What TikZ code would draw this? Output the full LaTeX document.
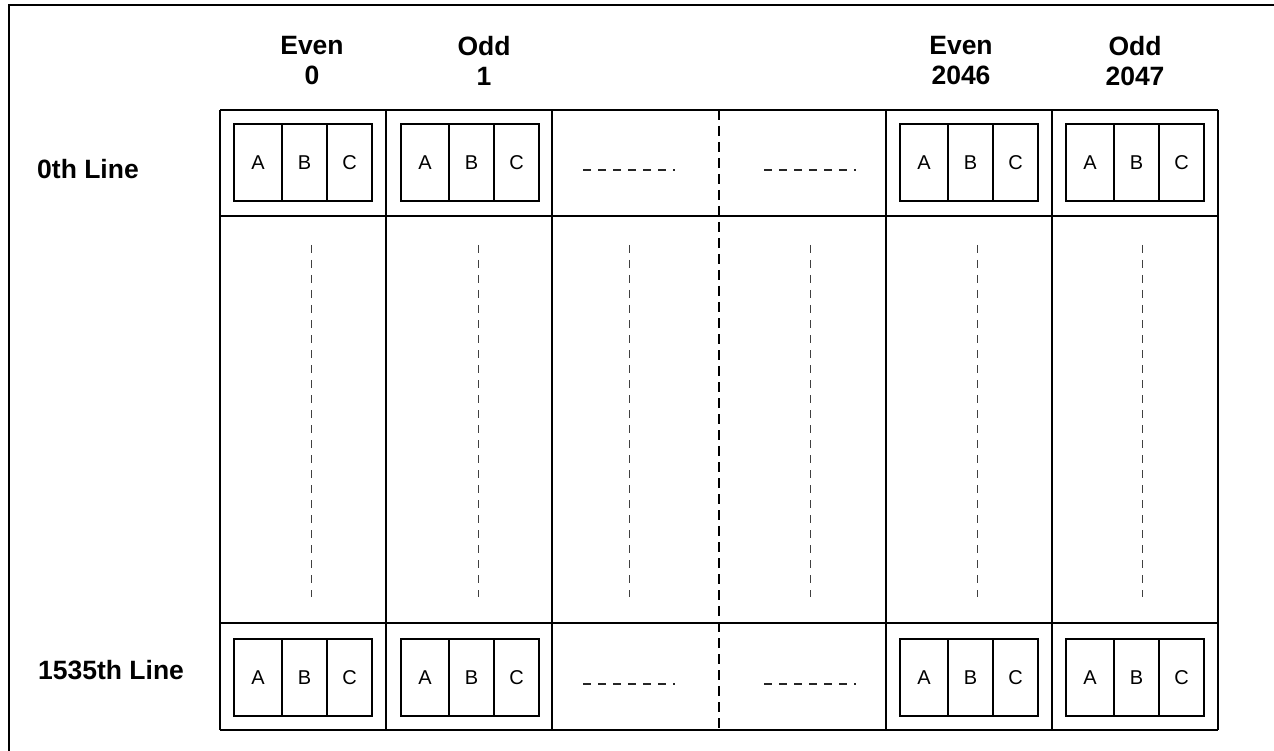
\documentclass[tikz,border=0pt]{standalone}
\usepackage{fontspec}
\setmainfont{Liberation Sans}
\tikzset{
  gridline/.style={line width=2.6pt},
  cellbox/.style={draw, line width=2.4pt, inner sep=0pt, outer sep=0pt, minimum height=77pt, anchor=north west, font=\fontsize{20}{24}\selectfont},
  hdr/.style={align=center, inner sep=0pt, font=\fontsize{26.5}{30}\selectfont\bfseries},
  rowlbl/.style={anchor=base west, inner sep=0pt, font=\fontsize{26.5}{30}\selectfont\bfseries},
  dots/.style={line width=1.3pt, dash pattern=on 8pt off 7pt, black!85},
  vdots/.style={line width=1pt, dash pattern=on 8pt off 7pt, black!75},
  middash/.style={line width=1.5pt, dash pattern=on 10pt off 6pt, black},
}
\newcommand\abcbox[3]{%
  \node[cellbox, minimum width=48pt] (#1a) at (#2,#3) {A};
  \node[cellbox, minimum width=45pt] (#1b) at (#1a.north east) {B};
  \node[cellbox, minimum width=45pt] (#1c) at (#1b.north east) {C};
}
\begin{document}
\begin{tikzpicture}[x=1pt,y=-1pt]
\useasboundingbox (0,0) rectangle (1274,751);
\clip (0,0) rectangle (1274,751);
% outer frame (cut by the picture edge on the right and bottom)
\coordinate (fbl) at (9,760);
\coordinate (ftl) at (9,5);
\coordinate (ftr) at (1290,5);
\draw[line width=2.6pt] (fbl) -- (ftl) -- (ftr);

% grid
\foreach \y in {110,216,623,730}
  \draw[gridline] (220,\y) -- (1218,\y);
\foreach \x in {220,386,552,886,1052,1218}
  \draw[gridline] (\x,110) -- (\x,730);
\draw[middash] (719,110) -- (719,730);

% headers
\node[hdr] (h0) at (312,61) {Even\\0};
\node[hdr] (h1) at (484,61) {Odd\\1};
\node[hdr] (h2046) at (961,61) {Even\\2046};
\node[hdr] (h2047) at (1135,61) {Odd\\2047};

% row labels
\node[rowlbl] (r0) at (37,179) {0th Line};
\node[rowlbl] (r1535) at (38,679) {1535th Line};

% pixel boxes
\abcbox{ta}{234}{124}
\abcbox{tb}{401}{124}
\abcbox{tc}{900}{124}
\abcbox{td}{1066}{124}
\abcbox{ba}{234}{639}
\abcbox{bb}{401}{639}
\abcbox{bc}{900}{639}
\abcbox{bd}{1066}{639}

% horizontal ellipsis dashes
\draw[dots] (583,170) -- (675,170);
\draw[dots] (764,170) -- (856,170);
\draw[dots] (583,684) -- (675,684);
\draw[dots] (764,684) -- (856,684);

% vertical ellipsis dashes
\foreach \x in {311,478,629,810,977,1142}
  \draw[vdots] (\x,245) -- (\x,597);
\end{tikzpicture}
\end{document}
